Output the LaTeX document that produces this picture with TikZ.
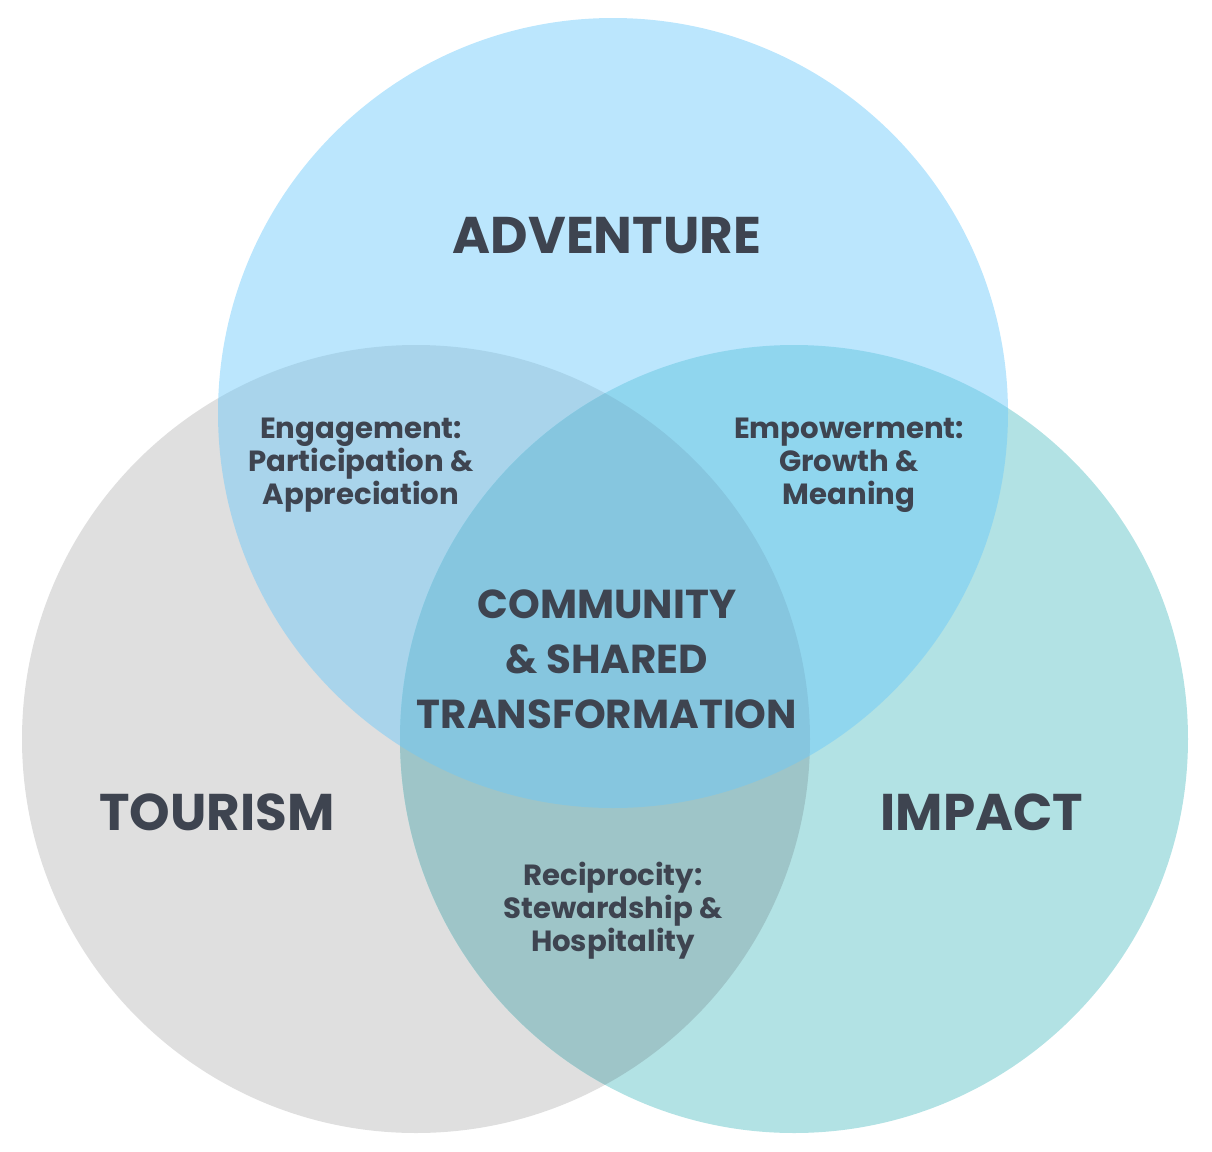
\documentclass[tikz,border=0pt]{standalone}
\usepackage{fontspec}
\setmainfont{Poppins}
\usepackage{xcolor}
\usetikzlibrary{positioning}

\definecolor{ink}{RGB}{62,68,80}
\definecolor{greyset}{RGB}{223,223,223}
\definecolor{tealset}{RGB}{178,226,228}
\definecolor{greyteal}{RGB}{158,197,200}
\definecolor{blueset}{RGB}{106,201,251}

\begin{document}
\begin{tikzpicture}[x=0.5pt, y=-0.5pt,
    setname/.style={text=ink, font=\fontsize{25.8}{30}\selectfont\bfseries},
    pairname/.style={text=ink, align=center, font=\fontsize{14.6}{16.5}\selectfont\bfseries},
    corename/.style={text=ink, align=center, font=\fontsize{20.2}{27.5}\selectfont\bfseries}
    ]
    \useasboundingbox (0,0) rectangle (1212,1152);
    % the three sets
    \coordinate (tourism) at (416,739);
    \coordinate (impact) at (794,739);
    \coordinate (adventure) at (613,413);
    \fill[greyset] (tourism) circle[radius=197pt];
    \fill[tealset] (impact) circle[radius=197pt];
    \begin{scope}
        \clip (tourism) circle[radius=197pt];
        \fill[greyteal] (impact) circle[radius=197pt];
    \end{scope}
    \fill[blueset, fill opacity=0.46] (adventure) circle[radius=197.5pt];
    % labels
    \node [setname](adv) at (607,236) {ADVENTURE};
    \node [setname](tour) at (217,812) {TOURISM};
    \node [setname](imp) at (982,812) {IMPACT};
    \node [pairname](engage) at (361,465) {Engagement:\\Participation \&\\Appreciation};
    \node [pairname](empower) at (849,465) {Empowerment:\\Growth \&\\Meaning};
    \node [pairname](recip) at (613,911) {Reciprocity:\\Stewardship \&\\Hospitality};
    \node [corename](core) at (607,659) {COMMUNITY\\\& SHARED\\TRANSFORMATION};
\end{tikzpicture}
\end{document}
